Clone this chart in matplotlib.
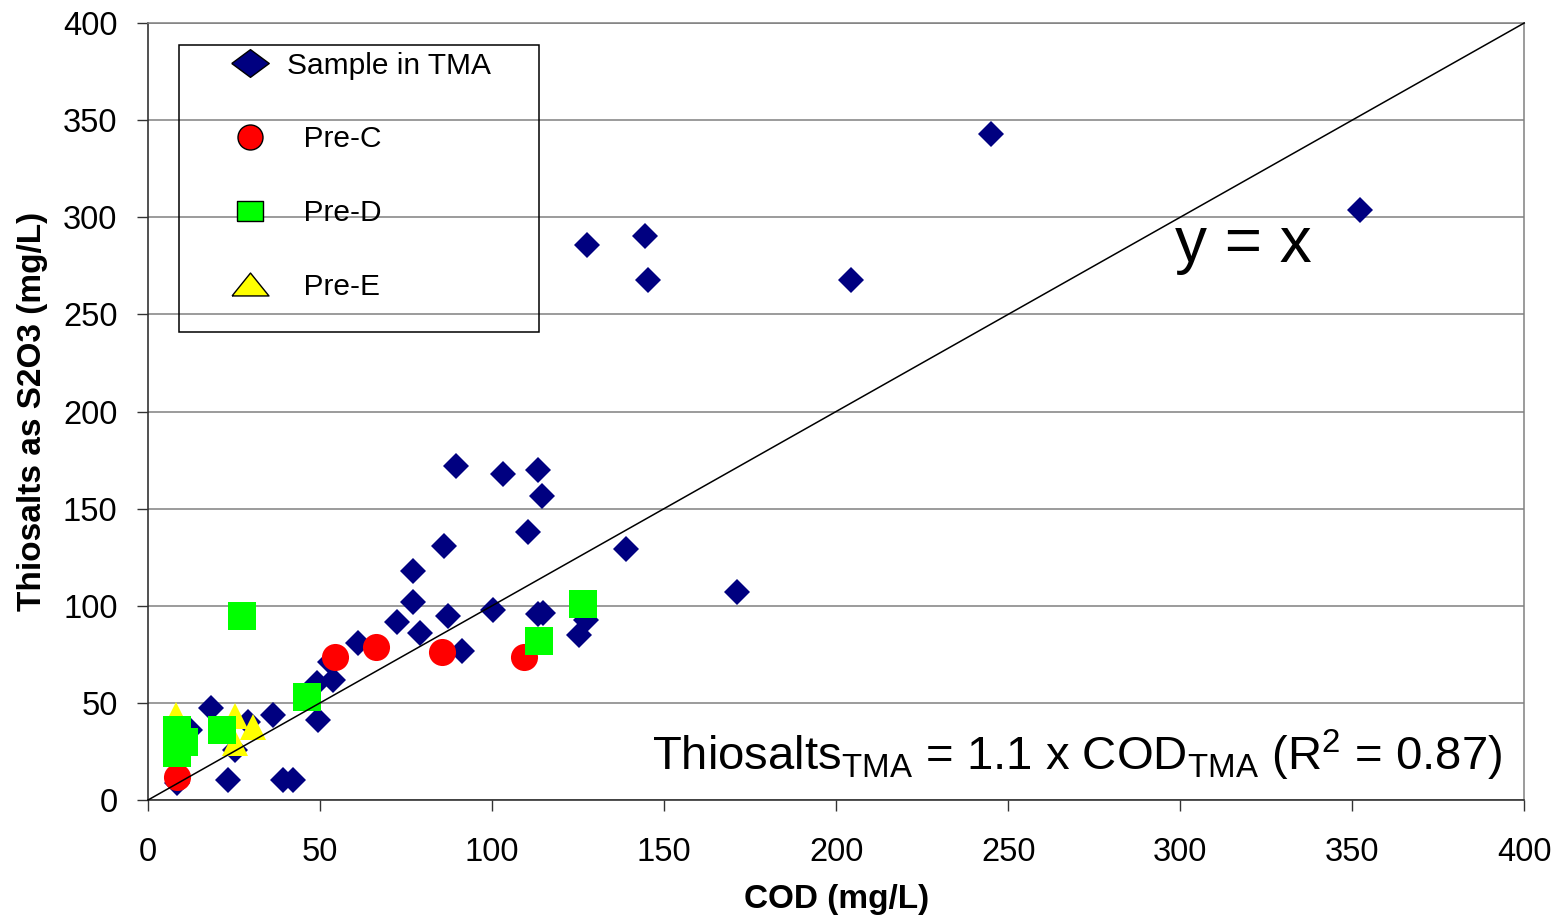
import matplotlib
matplotlib.use('Agg')
import matplotlib.pyplot as plt
from matplotlib.lines import Line2D
from matplotlib.patches import Rectangle

plt.rcParams['font.family'] = ['Liberation Sans', 'DejaVu Sans']
plt.rcParams['mathtext.fontset'] = 'custom'
plt.rcParams['mathtext.rm'] = 'Liberation Sans'
plt.rcParams['mathtext.it'] = 'Liberation Sans:italic'

# COD vs thiosalts, mg/L
tma_cod = [8.3, 8, 23.3, 39.3, 42.2, 12.2, 18.2, 25.3, 36.4, 29, 49.5, 49, 53.8, 52.9,
           61.1, 72.3, 79, 77.1, 77.1, 86.1, 87.3, 91.2, 100.4, 89.4, 103.3, 113.3,
           114.4, 110.3, 113.4, 114.9, 125.4, 127.3, 139, 171.2, 127.6, 144.5, 145.3,
           204.4, 245.1, 352.3]
tma_thio = [8.6, 30, 10.3, 10.3, 10.3, 36, 47.2, 25.7, 43.8, 40, 41.2, 60, 61.8, 71.2,
            80.7, 91.8, 85.8, 101.8, 117.9, 130.8, 94.9, 76.9, 97.8, 171.9, 167.8, 169.9,
            156.7, 137.8, 96, 96.1, 84.9, 92.7, 129, 107.1, 285.7, 290.3, 267.7,
            267.7, 342.9, 303.7]

prec_cod = [8.3, 54.4, 66.3, 85.4, 109.4]
prec_thio = [11.7, 73.8, 78.9, 76, 73.8]

pred_cod = [126.3, 113.5, 27.3, 46.3, 21.4, 8.5, 10.3, 8.5]
pred_thio = [100.7, 81.9, 94.7, 52.9, 36, 36, 29.7, 24]

pree_cod = [8.1, 8, 25.3, 30.6, 25.3]
pree_thio = [44, 38, 43, 37.7, 29.5]

ref_line = [0, 400]
ticks = [0, 50, 100, 150, 200, 250, 300, 350, 400]

fig = plt.figure(figsize=(15.62, 9.17), dpi=100)
ax = fig.add_axes([0.0948, 0.1276, 0.881, 0.8473])

ax.plot(tma_cod, tma_thio, 'D', color='#000080', ms=13.5, mew=0, zorder=3)
ax.plot(pree_cod, pree_thio, '^', color='#FFFF00', ms=19, mew=0, zorder=4)
ax.plot(prec_cod, prec_thio, 'o', color='#FF0000', ms=19.5, mew=0, zorder=5)
ax.plot(pred_cod, pred_thio, 's', color='#00FF00', ms=19.5, mew=0, zorder=6)
ax.plot(ref_line, ref_line, color='black', lw=1.1, zorder=7, clip_on=False)

ax.set_xlim(0, 400)
ax.set_ylim(0, 400)
ax.set_xticks(ticks)
ax.set_yticks(ticks)
ax.yaxis.grid(True, color='#808080', lw=1.1)
ax.set_axisbelow(True)
for side in ['left', 'bottom']:
    ax.spines[side].set_color('#333333')
    ax.spines[side].set_linewidth(1.2)
for side in ['right', 'top']:
    ax.spines[side].set_color('#808080')
    ax.spines[side].set_linewidth(1.1)
ax.tick_params(axis='both', direction='out', length=8, width=1, color='#333333',
               labelsize=23.5)
ax.tick_params(axis='x', pad=19)
ax.tick_params(axis='y', pad=14)

ax.set_xlabel('COD (mg/L)', fontsize=24, fontweight='bold', labelpad=11)
ax.set_ylabel('Thiosalts as S2O3 (mg/L)', fontsize=24, fontweight='bold', labelpad=11)

ax.text(298.5, 277, 'y = x', fontsize=46, va='baseline')
ax.text(393.6, 15.4, r'Thiosalts$_{\mathrm{TMA}}$ = 1.1 x COD$_{\mathrm{TMA}}$ (R$^{2}$ = 0.87)',
        fontsize=34, ha='right', va='baseline')

diamond = [(-1, 0), (0, 0.74), (1, 0), (0, -0.74), (-1, 0)]
rect = [(-1, -0.8), (1, -0.8), (1, 0.8), (-1, 0.8), (-1, -0.8)]
tri = [(-1, -0.62), (1, -0.62), (0, 0.62), (-1, -0.62)]
handles = [
    Line2D([], [], ls='none', marker=diamond, ms=27, mfc='#000080', mec='black', mew=1),
    Line2D([], [], ls='none', marker='o', ms=18, mfc='#FF0000', mec='black', mew=1),
    Line2D([], [], ls='none', marker=rect, ms=18.7, mfc='#00FF00', mec='black', mew=1),
    Line2D([], [], ls='none', marker=tri, ms=26.6, mfc='#FFFF00', mec='black', mew=1),
]
labels = ['Sample in TMA', '  Pre-C', '  Pre-D', '  Pre-E']
ax.legend(handles, labels, loc='upper left', bbox_to_anchor=(0.0581, 0.963),
          frameon=False, fontsize=21.5, borderpad=0, borderaxespad=0,
          handlelength=1.5, handletextpad=0.48, labelspacing=1.53)
ax.add_patch(Rectangle((0.0225, 0.6023), 0.2617, 0.3694, transform=ax.transAxes,
                       fill=False, ec='black', lw=1.1, zorder=8))

fig.savefig('out.png', dpi=100)
